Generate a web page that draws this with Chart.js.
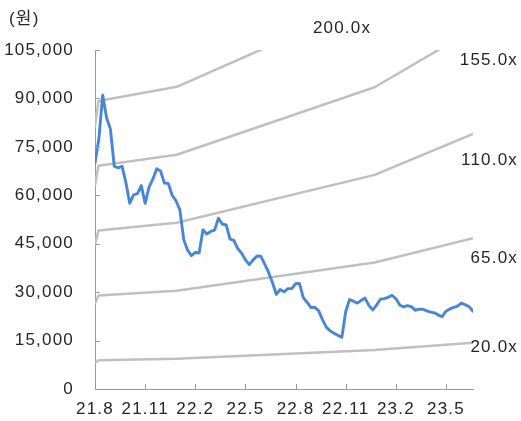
<!DOCTYPE html>
<html>
<head>
<meta charset="utf-8">
<script src="https://cdn.jsdelivr.net/npm/chart.js@4"></script>
<style>
  html, body { margin: 0; padding: 0; background: #fff; }
  #c { display: block; }
</style>
</head>
<body>
<canvas id="c" width="521" height="421"></canvas>
<script>
// Weekly share price (원), first week of Aug 2021 onward
const price = [
  70000, 77500, 91000, 84000, 80500, 69000, 68500, 69000, 64000, 57500,
  60100, 60500, 63000, 57500, 62500, 65000, 68200, 67500, 63800, 63700,
  60000, 58300, 55500, 46300, 43000, 41300, 42300, 42200, 49300, 48000,
  48800, 49200, 52900, 51100, 50800, 46400, 46000, 43500, 42100, 40000,
  38500, 40000, 41200, 41100, 38700, 36100, 33000, 29300, 30800, 30100,
  31100, 31100, 32600, 32700, 28300, 26800, 25200, 25300, 24200, 21400,
  19100, 18000, 17300, 16600, 16000, 24000, 27700, 27200, 26600, 27400,
  28200, 25900, 24500, 26000, 27800, 28000, 28400, 29000, 28000, 26000,
  25400, 25800, 25500, 24400, 24700, 24700, 24200, 23800, 23600, 22900,
  22400, 24100, 24800, 25300, 25700, 26600, 26100, 25500, 24100
];

// Forward EPS (원) at the weeks where its trend changes
const epsWeeks = [0, 0.9, 21.2, 72.5, 98];
const eps      = [407, 446, 468, 603, 718];

// PER band multiples
const multiples = [20, 65, 110, 155, 200];

// Quarterly tick labels, one every 13 weeks
const tickLabels = ['21.8', '21.11', '22.2', '22.5', '22.8', '22.11', '23.2', '23.5'];
const weeksPerTick = 13;

const TEXT = '#262626';
const AXIS = '#9a9a9a';
const FONT = '"Liberation Sans", Arial, "Noto Sans CJK KR", sans-serif';
const SPACING = '1.2px';

const priceSet = {
  label: 'price',
  data: price.map((v, i) => ({ x: i, y: v })),
  borderColor: '#4a86d8',
  borderWidth: 2.9,
  pointRadius: 0,
  tension: 0,
  order: 0
};

const bandSets = multiples.map(m => ({
  label: m.toFixed(1) + 'x',
  data: epsWeeks.map((w, i) => ({ x: w, y: eps[i] * m })),
  borderColor: '#c0c0c0',
  borderWidth: 2.5,
  pointRadius: 0,
  tension: 0,
  order: 1
}));

// Where each band's multiple is written
const bandLabelPos = {
  20:  { x: 518, y: 347, align: 'right' },
  65:  { x: 518, y: 258, align: 'right' },
  110: { x: 518, y: 160, align: 'right' },
  155: { x: 518, y: 60,  align: 'right' },
  200: { x: 342, y: 28,  align: 'center' }
};

const decor = {
  id: 'decor',
  beforeUpdate(c) { c.ctx.letterSpacing = SPACING; },
  beforeDraw(c) { c.ctx.letterSpacing = SPACING; },
  afterDatasetsDraw(c) {
    const { ctx, chartArea: a, scales: { x, y } } = c;
    ctx.save();
    ctx.strokeStyle = AXIS;
    ctx.lineWidth = 1;
    // inward tick marks
    y.ticks.forEach(t => {
      const py = Math.round(y.getPixelForValue(t.value)) + 0.5;
      ctx.beginPath(); ctx.moveTo(a.left, py); ctx.lineTo(a.left + 5, py); ctx.stroke();
    });
    x.ticks.forEach(t => {
      const px = Math.round(x.getPixelForValue(t.value)) + 0.5;
      ctx.beginPath(); ctx.moveTo(px, a.bottom); ctx.lineTo(px, a.bottom - 5); ctx.stroke();
    });
    // band names and unit
    ctx.fillStyle = TEXT;
    ctx.font = '17px ' + FONT;
    ctx.letterSpacing = SPACING;
    ctx.textBaseline = 'middle';
    bandSets.forEach((ds, i) => {
      const p = bandLabelPos[multiples[i]];
      ctx.textAlign = p.align;
      ctx.fillText(ds.label, p.x, p.y);
    });
    ctx.textAlign = 'left';
    ctx.fillText('(원)', 9, 19);
    ctx.restore();
  }
};

new Chart(document.getElementById('c'), {
  type: 'line',
  data: { datasets: [priceSet, ...bandSets] },
  options: {
    responsive: false,
    animation: false,
    devicePixelRatio: 1,
    layout: { padding: { top: 50, right: 48, left: 0, bottom: 0 } },
    plugins: { legend: { display: false }, tooltip: { enabled: false } },
    elements: { line: { borderCapStyle: 'round', borderJoinStyle: 'round' } },
    scales: {
      x: {
        type: 'linear',
        min: 0,
        max: price.length - 1,
        afterBuildTicks(s) {
          s.ticks = tickLabels.map((_, i) => ({ value: i * weeksPerTick }));
        },
        afterFit(s) { s.height = 32; },
        grid: { display: false, drawTicks: false },
        border: { display: true, color: AXIS, width: 1 },
        ticks: {
          autoSkip: false,
          maxRotation: 0,
          padding: 10,
          color: TEXT,
          font: { family: FONT, size: 17 },
          callback: v => tickLabels[Math.round(v / weeksPerTick)] ?? ''
        }
      },
      y: {
        min: 0,
        max: 105000,
        afterFit(s) { s.width = 95; },
        grid: { display: false, drawTicks: false },
        border: { display: true, color: AXIS, width: 1 },
        ticks: {
          stepSize: 15000,
          padding: 21,
          color: TEXT,
          font: { family: FONT, size: 17 },
          callback: v => v.toLocaleString('en-US')
        }
      }
    }
  },
  plugins: [decor]
});
</script>
</body>
</html>
